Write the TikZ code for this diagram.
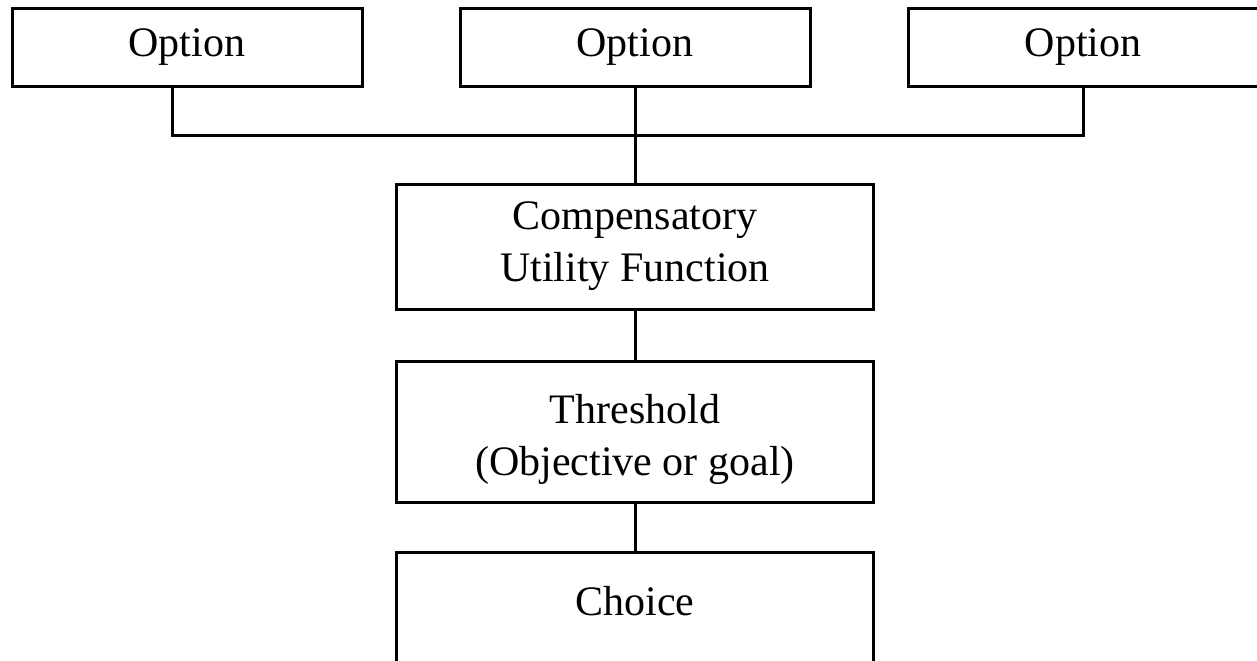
\documentclass[tikz,border=0pt]{standalone}
\usepackage{fontspec}
\setmainfont{Liberation Serif}
\usetikzlibrary{positioning}

\tikzset{
  optbox/.style={draw, line width=1.5pt, minimum width=175pt, minimum height=39pt,
                 inner sep=0pt, outer sep=0pt, font=\fontsize{21}{26}\selectfont},
  stagebox/.style={draw, line width=1.5pt, minimum width=238.5pt, inner sep=0pt,
                   outer sep=0pt, align=center, font=\fontsize{21}{26}\selectfont},
  link/.style={line width=1.5pt}
}

\begin{document}
\begin{tikzpicture}[x=0.5pt, y=-0.5pt]
  \useasboundingbox (0,0) rectangle (1257,660);
  \clip (0,0) rectangle (1257,660);

  % options on top
  \node[optbox] (opt2) at (635,47) {Option};
  \node[optbox, left=49pt of opt2] (opt1) {Option};
  \node[optbox, right=49pt of opt2] (opt3) {Option};

  % decision stages
  \node[stagebox, below=49pt of opt2, minimum height=62.5pt]
        (comp) {Compensatory\\Utility Function};
  \node[stagebox, below=26pt of comp, minimum height=70.5pt, text height=48.3pt]
        (thresh) {Threshold\\(Objective or goal)};
  \node[stagebox, below=25pt of thresh, inner ysep=17.5pt, text height=14pt,
        text depth=80pt] (choice) {Choice};

  % bus joining the options
  \coordinate (busL) at (172,135);
  \coordinate (busR) at (opt3.south |- busL);
  \draw[link] (busL |- opt1.south) -- (busL) -- (busR) -- (opt3.south);
  \draw[link] (opt2) -- (comp);
  \draw[link] (comp) -- (thresh);
  \draw[link] (thresh) -- (choice);
\end{tikzpicture}
\end{document}
